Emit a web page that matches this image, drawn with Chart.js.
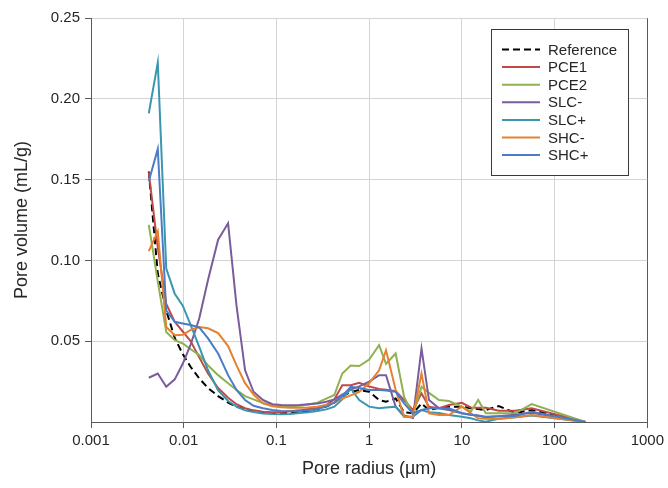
<!DOCTYPE html>
<html>
<head>
<meta charset="utf-8">
<script src="https://cdn.jsdelivr.net/npm/chart.js@4.4.1/dist/chart.umd.min.js"></script>
<style>
  html, body { margin: 0; padding: 0; background: #fff; }
  #wrap { width: 668px; height: 488px; }
</style>
</head>
<body>
<div id="wrap"><canvas id="poreChart" width="668" height="488"></canvas></div>
<script>
// pore radius (um), shared by all samples
var radius = [0.0042, 0.00525, 0.00648, 0.0080, 0.00976, 0.0119, 0.0147, 0.0183, 0.0235, 0.0301,
    0.0371, 0.0459, 0.0566, 0.0716, 0.0906, 0.113, 0.141, 0.177, 0.221, 0.276,
    0.345, 0.421, 0.513, 0.633, 0.781, 1.00, 1.28, 1.52, 1.93, 2.38,
    2.97, 3.67, 4.42, 5.66, 7.25, 10.0, 12.5, 15.0, 18.1, 25.0,
    37.6, 56.6, 215];

// pore volume (mL/g) per sample
var reference = [0.155, 0.092, 0.069, 0.052, 0.042, 0.034, 0.027, 0.021, 0.016, 0.012,
    0.0095, 0.0078, 0.0068, 0.0058, 0.0054, 0.0055, 0.0058, 0.0063, 0.0070, 0.0080,
    0.0095, 0.012, 0.016, 0.0185, 0.0198, 0.0187, 0.0136, 0.0125, 0.0146, 0.0060,
    0.0054, 0.0115, 0.0074, 0.0088, 0.0095, 0.0095, 0.0085, 0.0080, 0.0074, 0.0098,
    0.0056, 0.0074, 0];
var pce1 = [0.1545, 0.108, 0.073, 0.062, 0.056, 0.050, 0.040, 0.030, 0.021, 0.015,
    0.011, 0.0085, 0.0072, 0.0064, 0.0060, 0.0062, 0.0066, 0.0072, 0.0080, 0.0090,
    0.0105, 0.014, 0.0228, 0.0228, 0.0243, 0.022, 0.0205, 0.020, 0.019, 0.0136,
    0.0074, 0.0177, 0.0095, 0.0085, 0.0105, 0.0119, 0.0090, 0.0088, 0.0088, 0.0070,
    0.0070, 0.0085, 0];
var pce2 = [0.122, 0.087, 0.0557, 0.0506, 0.0486, 0.045, 0.0414, 0.035, 0.029, 0.024,
    0.0198, 0.016, 0.014, 0.0118, 0.0105, 0.0098, 0.0098, 0.010, 0.0108, 0.012,
    0.0145, 0.0167, 0.030, 0.035, 0.0346, 0.0387, 0.0475, 0.036, 0.0424, 0.0156,
    0.0043, 0.0218, 0.018, 0.0136, 0.013, 0.0095, 0.0064, 0.0136, 0.0054, 0.0054,
    0.0054, 0.0111, 0];
var slcMinus = [0.0274, 0.030, 0.0218, 0.0264, 0.036, 0.048, 0.064, 0.088, 0.1128, 0.123,
    0.072, 0.032, 0.0187, 0.0136, 0.011, 0.0105, 0.0104, 0.0105, 0.011, 0.0115,
    0.0125, 0.014, 0.017, 0.020, 0.022, 0.025, 0.029, 0.029, 0.0095, 0.0040,
    0.0025, 0.0455, 0.0136, 0.0085, 0.0074, 0.0054, 0.0045, 0.0038, 0.0030, 0.0035,
    0.0045, 0.0057, 0];
var slcPlus = [0.191, 0.2224, 0.095, 0.0794, 0.072, 0.060, 0.0465, 0.032, 0.0195, 0.013,
    0.0095, 0.0072, 0.0062, 0.0052, 0.0049, 0.0048, 0.0050, 0.0055, 0.0060, 0.0068,
    0.0078, 0.0095, 0.014, 0.0208, 0.0136, 0.0095, 0.0085, 0.0090, 0.0095, 0.0033,
    0.0033, 0.0074, 0.0060, 0.0055, 0.0043, 0.0033, 0.0023, 0.0010, 0.0002, 0.0020,
    0.0030, 0.0040, 0];
var shcMinus = [0.1057, 0.118, 0.0588, 0.0537, 0.054, 0.057, 0.0588, 0.058, 0.055, 0.047,
    0.035, 0.024, 0.017, 0.0115, 0.0098, 0.0092, 0.0088, 0.0088, 0.0090, 0.0095,
    0.0105, 0.012, 0.0145, 0.0165, 0.0187, 0.024, 0.032, 0.0444, 0.020, 0.0033,
    0.0033, 0.030, 0.0054, 0.0043, 0.0043, 0.0095, 0.0054, 0.0023, 0.0020, 0.0019,
    0.0030, 0.0043, 0];
var shcPlus = [0.149, 0.169, 0.069, 0.062, 0.061, 0.060, 0.0585, 0.0517, 0.0424, 0.029,
    0.0198, 0.0136, 0.010, 0.0085, 0.0074, 0.0068, 0.0066, 0.0068, 0.0072, 0.0080,
    0.0095, 0.012, 0.016, 0.0218, 0.021, 0.0198, 0.0198, 0.0195, 0.0187, 0.0115,
    0.0054, 0.0074, 0.0085, 0.0085, 0.0085, 0.0054, 0.0045, 0.0040, 0.0033, 0.0035,
    0.0037, 0.0064, 0];

var seriesNames = ['Reference', 'PCE1', 'PCE2', 'SLC-', 'SLC+', 'SHC-', 'SHC+'];
var seriesValues = [reference, pce1, pce2, slcMinus, slcPlus, shcMinus, shcPlus];
var seriesColors = ['#000000', '#be4b48', '#8fb151', '#7a5c9c', '#3b96b0', '#e5812f', '#4a7dc6'];

// decade ticks for the radius axis
var xTicks = [0.001, 0.01, 0.1, 1, 10, 100, 1000];

var textColor = '#262626';
var gridColor = '#d4d4d4';
var axisColor = '#595959';
var fontFamily = '"Liberation Sans", Arial, sans-serif';

var datasets = seriesValues.map(function (values, i) {
    return {
        label: seriesNames[i],
        data: radius.map(function (r, j) { return { x: r, y: values[j] }; }),
        borderColor: seriesColors[i],
        backgroundColor: seriesColors[i],
        borderWidth: 2,
        borderDash: i === 0 ? [7, 4] : [],
        pointRadius: 0,
        tension: 0,
        fill: false,
        // later series drawn on top
        order: seriesNames.length - i
    };
});

// legend box drawn inside the plot, top right
var boxLegend = {
    id: 'boxLegend',
    afterDraw: function (chart) {
        var ctx = chart.ctx;
        var left = 491.5, top = 29.5, w = 137, h = 146;
        ctx.save();
        ctx.fillStyle = '#ffffff';
        ctx.fillRect(left, top, w, h);
        ctx.strokeStyle = '#3a3a3a';
        ctx.lineWidth = 1;
        ctx.strokeRect(left, top, w, h);
        ctx.font = '15px ' + fontFamily;
        ctx.textBaseline = 'middle';
        chart.data.datasets.forEach(function (ds, i) {
            var y = 49.5 + i * 17.6;
            ctx.beginPath();
            ctx.setLineDash(ds.borderDash);
            ctx.strokeStyle = ds.borderColor;
            ctx.lineWidth = ds.borderWidth;
            ctx.moveTo(502, y);
            ctx.lineTo(540, y);
            ctx.stroke();
            ctx.setLineDash([]);
            ctx.fillStyle = textColor;
            ctx.fillText(ds.label, 548, y + 1);
        });
        ctx.restore();
    }
};

var poreChart = new Chart(document.getElementById('poreChart'), {
    type: 'line',
    data: { datasets: datasets },
    plugins: [boxLegend],
    options: {
        responsive: false,
        animation: false,
        layout: { padding: { top: 18, right: 18, left: 0, bottom: 0 } },
        plugins: {
            legend: { display: false },
            tooltip: { enabled: false }
        },
        scales: {
            x: {
                type: 'logarithmic',
                min: 0.001,
                max: 1000,
                afterBuildTicks: function (scale) {
                    scale.ticks = xTicks.map(function (v) { return { value: v }; });
                },
                afterFit: function (scale) { scale.height = 66; },
                ticks: {
                    autoSkip: false,
                    maxRotation: 0,
                    padding: 4,
                    color: textColor,
                    font: { family: fontFamily, size: 15 },
                    callback: function (v) { return String(v); }
                },
                grid: {
                    color: function (c) { return c.tick && c.tick.value === 1000 ? axisColor : gridColor; },
                    tickColor: axisColor,
                    tickLength: 6
                },
                border: { color: axisColor, width: 1 },
                title: {
                    display: true,
                    text: 'Pore radius (µm)',
                    color: textColor,
                    font: { family: fontFamily, size: 18 },
                    padding: { top: 0, bottom: 8 }
                }
            },
            y: {
                min: 0,
                max: 0.25,
                afterFit: function (scale) { scale.width = 91; },
                ticks: {
                    stepSize: 0.05,
                    padding: 5,
                    color: textColor,
                    font: { family: fontFamily, size: 15 },
                    callback: function (v) { return v === 0 ? '' : v.toFixed(2); }
                },
                grid: {
                    color: gridColor,
                    tickColor: function (c) { return c.tick && c.tick.value === 0 ? 'rgba(0,0,0,0)' : axisColor; },
                    tickLength: 6
                },
                border: { color: axisColor, width: 1 },
                title: {
                    display: true,
                    text: 'Pore volume (mL/g)',
                    color: textColor,
                    font: { family: fontFamily, size: 18 },
                    padding: { top: 11, bottom: 0 }
                }
            }
        }
    }
});
</script>
</body>
</html>
